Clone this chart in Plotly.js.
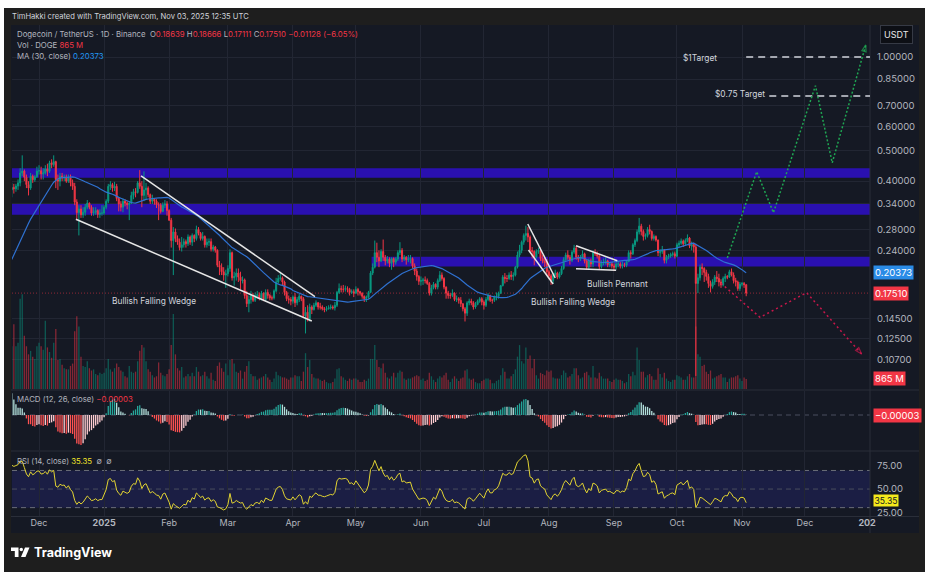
<!DOCTYPE html>
<html><head><meta charset="utf-8">
<script src="https://cdn.plot.ly/plotly-3.0.1.min.js"></script>
<style>html,body{margin:0;padding:0;background:#fff;}#chart{width:930px;height:577px;}</style>
</head><body><div id="chart"></div>
<script>
// ---------------- DATA (DOGE/USDT 1D, Binance) ----------------
// closes before the visible window (Sep 20 – Nov 17, 2024), only used to warm up MA / MACD / RSI
const preClose = [
0.107,0.110,0.107,0.110,0.113,0.112,0.118,0.127,0.130,0.125,0.110,
0.107,0.105,0.105,0.110,0.109,0.110,0.110,0.108,0.105,0.105,0.110,0.112,0.112,0.118,0.120,0.125,0.128,0.140,0.141,0.145,0.140,0.142,0.137,0.143,0.134,0.140,0.143,0.150,0.168,0.170,0.163,
0.166,0.160,0.158,0.160,0.172,0.200,0.210,0.200,0.220,0.280,0.330,0.390,0.385,0.370,0.385,0.410,0.375];

// visible window: Nov 18, 2024 – Nov 3, 2025 (one value per day)
const close = [
0.382,0.378,0.386,0.395,0.425,0.431,0.412,0.390,0.380,0.415,0.404,0.413,0.431,
0.432,0.422,0.425,0.438,0.430,0.458,0.452,0.462,0.405,0.400,0.415,0.410,0.412,0.400,0.410,0.395,0.385,0.343,0.317,0.326,0.312,0.318,0.330,0.340,0.330,0.316,0.318,0.322,0.313,0.316,0.316,
0.330,0.345,0.385,0.390,0.380,0.385,0.352,0.338,0.330,0.345,0.340,0.336,0.340,0.360,0.370,0.368,0.395,0.385,0.360,0.375,0.380,0.362,0.345,0.350,0.345,0.336,0.335,0.320,0.335,0.338,0.322,
0.300,0.258,0.275,0.262,0.255,0.245,0.250,0.256,0.252,0.265,0.255,0.268,0.262,0.280,0.272,0.262,0.266,0.250,0.255,0.256,0.242,0.246,0.240,0.215,0.212,0.205,0.200,0.202,
0.210,0.236,0.196,0.198,0.203,0.197,0.192,0.193,0.172,0.162,0.167,0.172,0.166,0.172,0.173,0.168,0.175,0.167,0.176,0.172,0.169,0.169,0.178,0.190,0.195,0.196,0.190,0.176,0.168,0.167,0.165,
0.170,0.163,0.167,0.171,0.168,0.148,0.152,0.145,0.158,0.155,0.160,0.163,0.158,0.158,0.156,0.155,0.156,0.157,0.158,0.157,0.160,0.176,0.181,0.180,0.180,0.181,0.180,0.176,0.177,0.175,
0.180,0.177,0.175,0.171,0.168,0.170,0.176,0.203,0.212,0.236,0.228,0.222,0.238,0.228,0.222,0.225,0.218,0.226,0.220,0.225,0.236,0.240,0.225,0.228,0.224,0.225,0.226,0.214,0.206,0.198,0.191,
0.192,0.193,0.192,0.188,0.175,0.182,0.187,0.183,0.192,0.200,0.195,0.183,0.175,0.172,0.172,0.175,0.167,0.168,0.166,0.162,0.156,0.151,0.163,0.165,0.163,0.158,0.161,0.165,0.168,0.164,
0.160,0.167,0.172,0.166,0.166,0.170,0.171,0.175,0.185,0.197,0.195,0.195,0.200,0.198,0.200,0.212,0.232,0.240,0.255,0.268,0.272,0.265,0.240,0.238,0.228,0.238,0.240,0.226,0.222,0.219,0.205,
0.199,0.192,0.200,0.203,0.197,0.202,0.210,0.224,0.232,0.228,0.223,0.237,0.244,0.228,0.225,0.228,0.234,0.222,0.212,0.222,0.217,0.236,0.234,0.230,0.213,0.219,0.220,0.222,0.216,0.217,0.214,
0.212,0.217,0.217,0.214,0.216,0.215,0.221,0.236,0.234,0.250,0.258,0.275,0.287,0.276,0.266,0.268,0.280,0.276,0.262,0.266,0.259,0.236,0.238,0.241,0.223,0.228,0.230,0.233,0.234,0.230,
0.250,0.253,0.257,0.252,0.258,0.263,0.248,0.251,0.246,0.188,0.196,0.212,0.210,0.204,0.198,0.188,0.184,0.190,0.197,0.195,0.190,0.186,0.195,0.198,0.197,0.205,0.200,0.192,0.190,0.181,0.187,
0.188,0.18639,0.17510];

const high = [
0.395,0.392,0.392,0.405,0.440,0.484,0.436,0.420,0.400,0.425,0.420,0.418,0.445,
0.450,0.445,0.440,0.450,0.455,0.465,0.470,0.484,0.465,0.420,0.425,0.425,0.420,0.420,0.420,0.420,0.405,0.395,0.350,0.335,0.335,0.330,0.338,0.348,0.342,0.335,0.330,0.330,0.325,0.325,0.335,
0.335,0.350,0.392,0.400,0.395,0.398,0.392,0.355,0.345,0.352,0.350,0.345,0.345,0.370,0.378,0.380,0.400,0.434,0.400,0.430,0.395,0.385,0.365,0.362,0.352,0.350,0.342,0.340,0.342,0.348,0.345,
0.325,0.305,0.285,0.282,0.268,0.262,0.265,0.262,0.260,0.270,0.268,0.272,0.270,0.288,0.285,0.275,0.275,0.268,0.262,0.262,0.262,0.250,0.248,0.242,0.222,0.218,0.212,0.208,
0.215,0.242,0.238,0.205,0.210,0.210,0.205,0.198,0.195,0.178,0.172,0.178,0.175,0.176,0.178,0.176,0.178,0.176,0.180,0.180,0.174,0.172,0.180,0.196,0.200,0.205,0.198,0.192,0.178,0.172,0.170,
0.172,0.175,0.170,0.174,0.172,0.170,0.158,0.160,0.162,0.160,0.163,0.166,0.164,0.163,0.160,0.158,0.159,0.160,0.161,0.160,0.164,0.178,0.188,0.185,0.186,0.185,0.184,0.182,0.180,0.180,
0.184,0.182,0.178,0.176,0.172,0.172,0.178,0.206,0.218,0.258,0.254,0.240,0.242,0.260,0.232,0.230,0.228,0.228,0.228,0.228,0.240,0.255,0.244,0.232,0.230,0.232,0.232,0.228,0.218,0.210,0.200,
0.198,0.196,0.198,0.195,0.190,0.186,0.190,0.188,0.195,0.206,0.204,0.197,0.184,0.178,0.175,0.180,0.176,0.172,0.170,0.170,0.162,0.158,0.165,0.168,0.168,0.165,0.164,0.167,0.170,0.170,
0.166,0.170,0.175,0.173,0.168,0.172,0.176,0.177,0.186,0.200,0.203,0.200,0.204,0.206,0.204,0.214,0.238,0.250,0.258,0.272,0.288,0.285,0.268,0.246,0.240,0.242,0.245,0.245,0.232,0.228,0.225,
0.208,0.202,0.203,0.208,0.205,0.205,0.214,0.228,0.236,0.240,0.232,0.240,0.250,0.248,0.232,0.232,0.240,0.236,0.224,0.226,0.226,0.240,0.242,0.238,0.232,0.223,0.226,0.228,0.224,0.220,0.220,
0.218,0.220,0.222,0.220,0.221,0.219,0.223,0.240,0.240,0.253,0.262,0.280,0.305,0.292,0.280,0.272,0.285,0.290,0.278,0.270,0.268,0.260,0.242,0.248,0.242,0.232,0.234,0.236,0.238,0.238,
0.254,0.258,0.262,0.260,0.262,0.270,0.265,0.256,0.254,0.252,0.202,0.216,0.218,0.212,0.208,0.202,0.192,0.194,0.200,0.206,0.202,0.194,0.198,0.202,0.200,0.208,0.210,0.204,0.196,0.192,0.190,
0.190,0.190,0.18666];

const low = [
0.355,0.365,0.370,0.375,0.385,0.415,0.400,0.380,0.360,0.375,0.395,0.398,0.410,
0.420,0.405,0.405,0.420,0.415,0.425,0.440,0.445,0.380,0.375,0.385,0.400,0.400,0.395,0.395,0.385,0.375,0.335,0.300,0.268,0.305,0.305,0.310,0.325,0.325,0.310,0.310,0.312,0.305,0.305,0.310,
0.312,0.325,0.340,0.375,0.370,0.372,0.345,0.320,0.320,0.318,0.332,0.325,0.300,0.338,0.350,0.355,0.365,0.378,0.330,0.345,0.350,0.355,0.338,0.338,0.336,0.328,0.300,0.315,0.318,0.328,0.310,
0.298,0.245,0.200,0.255,0.250,0.240,0.238,0.245,0.245,0.248,0.250,0.248,0.255,0.258,0.268,0.258,0.258,0.245,0.245,0.248,0.238,0.238,0.236,0.212,0.200,0.200,0.192,0.182,
0.198,0.205,0.192,0.185,0.192,0.190,0.180,0.188,0.168,0.158,0.152,0.162,0.164,0.164,0.168,0.166,0.166,0.165,0.165,0.168,0.166,0.166,0.167,0.176,0.188,0.192,0.185,0.172,0.165,0.162,0.160,
0.162,0.158,0.160,0.164,0.165,0.146,0.130,0.142,0.142,0.150,0.154,0.158,0.155,0.155,0.154,0.152,0.153,0.155,0.155,0.155,0.154,0.158,0.174,0.176,0.176,0.177,0.176,0.172,0.174,0.170,
0.174,0.172,0.172,0.168,0.164,0.164,0.168,0.175,0.200,0.210,0.220,0.212,0.220,0.222,0.215,0.218,0.212,0.208,0.212,0.216,0.222,0.232,0.220,0.222,0.216,0.220,0.218,0.210,0.200,0.192,0.186,
0.185,0.186,0.188,0.186,0.172,0.172,0.180,0.180,0.180,0.190,0.192,0.180,0.168,0.168,0.168,0.170,0.165,0.164,0.162,0.158,0.153,0.142,0.148,0.160,0.160,0.155,0.156,0.160,0.163,0.160,
0.155,0.158,0.165,0.164,0.162,0.164,0.166,0.168,0.174,0.184,0.188,0.190,0.193,0.193,0.192,0.198,0.210,0.228,0.235,0.250,0.258,0.255,0.236,0.226,0.215,0.226,0.234,0.222,0.218,0.212,0.200,
0.194,0.186,0.188,0.198,0.194,0.195,0.200,0.208,0.222,0.224,0.216,0.220,0.234,0.224,0.220,0.222,0.226,0.218,0.208,0.208,0.212,0.212,0.230,0.226,0.208,0.210,0.215,0.216,0.212,0.212,0.210,
0.206,0.208,0.212,0.210,0.210,0.212,0.212,0.220,0.226,0.232,0.246,0.255,0.270,0.268,0.258,0.260,0.264,0.270,0.258,0.258,0.256,0.230,0.228,0.234,0.218,0.218,0.225,0.227,0.229,0.226,
0.228,0.246,0.250,0.246,0.248,0.255,0.244,0.240,0.236,0.095,0.175,0.192,0.200,0.190,0.192,0.182,0.176,0.181,0.186,0.190,0.184,0.182,0.184,0.190,0.194,0.196,0.198,0.188,0.184,0.178,0.178,
0.184,0.182,0.17111];

// volume in millions of DOGE
const volume = [
3700,5600,3700,4000,7800,8200,4600,3700,3000,3300,2800,2600,3700,
4000,3700,3400,5900,3600,3200,2700,4000,5200,2500,2600,2100,1800,1700,1700,2000,2200,5000,6300,5400,2800,2000,1900,2400,1800,1600,1700,1300,1200,1400,1300,
1400,1800,2600,1700,1500,1800,2200,1900,1600,1500,1100,1000,2000,1500,1400,1500,2400,3300,3800,3600,2400,1700,1500,1200,1000,1100,2300,1400,1200,1100,1300,
1700,3800,6500,3000,1800,1600,1900,1000,1100,1300,1100,1400,1100,1900,1500,1100,1200,1500,1100,900,1400,800,700,2000,2300,1800,1500,2200,
1200,2500,2600,2200,1500,1400,1600,900,1500,2000,2400,1300,1100,1100,800,900,1000,1100,1300,1000,800,600,900,1500,1200,1100,1000,1000,900,800,1000,
1000,1200,1100,1100,700,1500,3100,1900,2500,1300,1000,900,900,800,700,800,600,500,500,600,900,1700,1800,1100,1000,800,700,900,800,900,
900,800,600,600,800,700,900,2600,2600,3800,2500,1900,1800,2200,1400,1000,900,1100,1400,1000,1400,1600,1500,900,800,900,900,1000,1100,1200,1100,
800,900,700,800,1400,1100,800,600,900,1100,1000,1200,1400,800,600,900,1100,900,700,900,1000,1600,1700,900,800,900,600,500,500,700,
800,900,900,800,500,500,700,800,1200,1800,1500,900,900,1100,1300,1700,2800,3800,2400,2200,3600,2600,2900,1800,2600,1200,900,1400,1300,1200,1600,
1500,1600,1000,900,900,900,1200,1600,1400,1000,1100,1300,1800,1800,1200,900,1000,1400,1500,1200,1000,2000,1000,900,1400,1100,900,900,900,700,600,
800,900,800,800,700,500,600,1300,1100,1500,1200,3600,2500,1500,1500,1000,1200,1300,1100,800,800,1800,1300,1000,1400,900,700,600,800,800,
1200,1100,1000,800,800,1100,1300,1000,1000,5400,3000,2800,2000,2100,1500,1300,1600,900,1000,1100,1200,1300,1000,1000,600,900,1000,1000,1100,1200,900,
700,1000,865];

// drawn annotations (pattern lines, targets, projected paths)
const wedge1Upper = {x:['2025-01-18 15:00','2025-04-11 12:00'], y:[0.4156,0.1705]};
const wedge1Lower = {x:['2024-12-18 14:00','2025-04-10 00:00'], y:[0.3019,0.1425]};
const wedge2Upper = {x:['2025-07-21 22:00','2025-08-04 00:00'], y:[0.2915,0.1957]};
const wedge2Lower = {x:['2025-07-22 06:00','2025-08-03 00:00'], y:[0.2406,0.1873]};
const pennantUpper = {x:['2025-08-13 22:00','2025-09-02 14:00'], y:[0.2484,0.2224]};
const pennantLower = {x:['2025-08-13 22:00','2025-09-02 00:00'], y:[0.2097,0.2072]};
const bullPathX = ['2025-10-25','2025-11-08','2025-11-16','2025-12-06','2025-12-14','2025-12-30'];
const bullPathY = [0.227,0.429,0.317,0.809,0.458,1.093];
const bearPathX = ['2025-10-22','2025-11-09 14:00','2025-12-01 19:00','2025-12-28'];
const bearPathY = [0.1883,0.1464,0.1757,0.1117];
const targets = [{label:'$1Target', price:1.0, from:'2025-11-03'}, {label:'$0.75 Target', price:0.75, from:'2025-11-14'}];
const bands = [[0.410,0.440,null],[0.312,0.340,null],[0.213,0.229,'2025-05-08 12:00']];
const priceTicks = [1.0,0.85,0.70,0.60,0.50,0.40,0.34,0.28,0.24,0.145,0.125,0.107];
const monthTicks = ['2024-12-01','2025-01-01','2025-02-01','2025-03-01','2025-04-01','2025-05-01','2025-06-01','2025-07-01','2025-08-01','2025-09-01','2025-10-01','2025-11-01','2025-12-01','2026-01-01'];
const monthLabels = ['Dec','<b>2025</b>','Feb','Mar','Apr','May','Jun','Jul','Aug','Sep','Oct','Nov','Dec','<b>2026</b>'];

// ---------------- derived ----------------
const DAY = 864e5;
const dates = close.map((_, i) => new Date(Date.UTC(2024,10,18) + i*DAY).toISOString().slice(0,10));
// 24/7 market: each day opens at the previous day's close
const open = close.map((c,i) => i===0 ? preClose[preClose.length-1] : close[i-1]);
const all = preClose.concat(close);
const N0 = preClose.length;
function sma(a,n){return a.map((_,i)=> i<n-1?null:a.slice(i-n+1,i+1).reduce((s,v)=>s+v,0)/n);}
function ema(a,n){const k=2/(n+1);let e=a[0];return a.map((v,i)=>(e= i===0?v:v*k+e*(1-k)));}
function rsiCalc(a,n){const out=[null];let ag=0,al=0;for(let i=1;i<a.length;i++){const d=a[i]-a[i-1],g=Math.max(d,0),l=Math.max(-d,0);
  if(i<=n){ag+=g/n;al+=l/n;out.push(i===n?100-100/(1+ag/al):null);}else{ag=(ag*(n-1)+g)/n;al=(al*(n-1)+l)/n;out.push(al===0?100:100-100/(1+ag/al));}}return out;}
const ma30 = sma(all,30).slice(N0);
const e12 = ema(all,12), e26 = ema(all,26);
const macdLine = e12.map((v,i)=>v-e26[i]);
const sig = ema(macdLine,9);
const histAll = macdLine.map((v,i)=>v-sig[i]);
const hist = histAll.slice(N0);
const histCol = hist.map((h,i)=>{const p=histAll[N0+i-1];return h>=0?(h>p?'#26a69a':'#b2dfdb'):(h<p?'#ff5252':'#ffcdd2');});
const rsi = rsiCalc(all,14).slice(N0);
const volCol = close.map((c,i)=> c>=open[i]?'rgba(8,153,129,0.5)':'rgba(242,54,69,0.5)');

// ---------------- geometry ----------------
const L=12,R=870,T=25,B=516;
const PX = p => (p-L)/(R-L);
const PY = p => (B-p)/(B-T);
const PR = [-(389-57)/312, (57-25)/312];          // log10 price range of the main pane
const DM = [PY(389), 1];
const yp = p => DM[0] + (Math.log10(p)-PR[0])/(PR[1]-PR[0])*(DM[1]-DM[0]);
let minH = Math.min(...hist);
const S = -minH/0.508;
const macdRange = [-0.593*S, 0.407*S];

const FONT = 'Inter, Roboto, "Noto Sans", sans-serif';
const GRID = '#222633';
const TXT = '#b2b5be';

const traces = [];
traces.push({type:'bar', x:dates, y:volume, xaxis:'x', yaxis:'y', marker:{color:volCol, line:{width:0}}, width:0.62*DAY, hoverinfo:'skip'});
traces.push({type:'candlestick', x:dates, open, high, low, close, xaxis:'x', yaxis:'y2', whiskerwidth:0,
  increasing:{line:{color:'#089981',width:1}, fillcolor:'#089981'},
  decreasing:{line:{color:'#f23645',width:1}, fillcolor:'#f23645'}, hoverinfo:'skip'});
traces.push({type:'scatter', mode:'lines', x:dates, y:ma30, xaxis:'x', yaxis:'y2', line:{color:'#2f72d2', width:1.2}, hoverinfo:'skip'});
[wedge1Upper,wedge1Lower,wedge2Upper,wedge2Lower,pennantUpper,pennantLower].forEach(s=>{
  traces.push({type:'scatter', mode:'lines', x:s.x, y:s.y, xaxis:'x', yaxis:'y2', line:{color:'#e6e6e6', width:1.5}, hoverinfo:'skip'});
});
targets.forEach(t=>{
  traces.push({type:'scatter', mode:'lines', x:[t.from,'2026-01-01'], y:[t.price,t.price], xaxis:'x', yaxis:'y2', line:{color:'#d1d4dc', width:1.3, dash:'7px,5px'}, hoverinfo:'skip'});
});
const arrowSizes = n => Array.from({length:n},(_,i)=> i===n-1?7:0);
traces.push({type:'scatter', mode:'lines+markers', x:bullPathX, y:bullPathY, xaxis:'x', yaxis:'y2',
  line:{color:'#1fa653', width:1.5, dash:'2px,2px'},
  marker:{symbol:'arrow-open', size:arrowSizes(bullPathX.length), angleref:'previous', color:'#1fa653', line:{color:'#1fa653',width:1.2}}, hoverinfo:'skip'});
traces.push({type:'scatter', mode:'lines+markers', x:bearPathX, y:bearPathY, xaxis:'x', yaxis:'y2',
  line:{color:'#c8174a', width:1.5, dash:'2px,3px'},
  marker:{symbol:'arrow-open', size:arrowSizes(bearPathX.length), angleref:'previous', color:'#c8174a', line:{color:'#c8174a',width:1.2}}, hoverinfo:'skip'});
traces.push({type:'bar', x:dates, y:hist, xaxis:'x', yaxis:'y3', marker:{color:histCol, line:{width:0}}, width:0.62*DAY, hoverinfo:'skip'});
traces.push({type:'scatter', mode:'lines', x:dates, y:rsi, xaxis:'x', yaxis:'y4', line:{color:'#e2d432', width:1}, hoverinfo:'skip'});

const shapes = [];
const rectP = (x0,y0,x1,y1,fill,layer)=>({type:'rect', xref:'paper', yref:'paper', x0:PX(x0), x1:PX(x1), y0:PY(y1), y1:PY(y0), fillcolor:fill, line:{width:0}, layer:layer||'below'});
const lineP = (x0,y0,x1,y1,color,dash,layer)=>({type:'line', xref:'paper', yref:'paper', x0:PX(x0), x1:PX(x1), y0:PY(y0), y1:PY(y1), line:{color, width:1, dash:dash||'solid'}, layer:layer||'below'});
shapes.push(rectP(4,8,925,572,'#1e1e1e'));
shapes.push(rectP(11,25,919,533,'#151924'));
bands.forEach(b=>{
  const x0 = b[2] ? PX(742 + 2.0985*((Date.parse(b[2]+'Z')-Date.UTC(2025,10,1))/DAY)) : 0;
  shapes.push({type:'rect', xref:'paper', yref:'paper', x0, x1:1, y0:yp(b[0]), y1:yp(b[1]), fillcolor:'#2a10b0', line:{width:0}, layer:'below'});
});
shapes.push({type:'rect', xref:'paper', yref:'y4', x0:0, x1:1, y0:30, y1:70, fillcolor:'#1b1e44', line:{width:0}, layer:'below'});
[70,50,30].forEach(v=>shapes.push({type:'line', xref:'paper', yref:'y4', x0:0, x1:1, y0:v, y1:v, line:{color:v===50?'#4a4e5e':'#6a6d78', width:1, dash:'5px,4px'}, layer:'below'}));
shapes.push({type:'line', xref:'paper', yref:'y3', x0:0, x1:1, y0:0, y1:0, line:{color:'#4a4e5e', width:1, dash:'5px,4px'}, layer:'below'});
shapes.push({type:'line', xref:'paper', yref:'paper', x0:0, x1:1, y0:yp(0.1751), y1:yp(0.1751), line:{color:'rgba(242,54,69,0.55)', width:1, dash:'1px,2px'}, layer:'below'});
shapes.push(lineP(11,390,919,390,'#2a2e39'));
shapes.push(lineP(11,451,919,451,'#2a2e39'));
shapes.push(lineP(11,516.5,919,516.5,'#2a2e39'));
shapes.push(lineP(870,25,870,533,'#2a2e39'));
// clip of the last time label by the price scale column
shapes.push(rectP(876,519,918,532,'#151924','above'));
// TradingView logo mark
const path = pts => 'M' + pts.map(p=>PX(p[0])+','+PY(p[1])).join(' L') + ' Z';
shapes.push({type:'path', xref:'paper', yref:'paper', path:path([[11,547.5],[18.5,547.5],[18.5,557],[14.8,557],[14.8,551],[11,551]]), fillcolor:'#ffffff', line:{width:0}, layer:'above'});
shapes.push({type:'circle', xref:'paper', yref:'paper', x0:PX(19.6), x1:PX(23), y0:PY(551.2), y1:PY(547.8), fillcolor:'#ffffff', line:{width:0}, layer:'above'});
shapes.push({type:'path', xref:'paper', yref:'paper', path:path([[25,547.5],[29.5,547.5],[25.5,557],[21,557]]), fillcolor:'#ffffff', line:{width:0}, layer:'above'});

const anns = [];
const A = (x,y,text,o={}) => anns.push(Object.assign({xref:'paper', yref:'paper', x:PX(x), y:PY(y), text, showarrow:false, xanchor:'left', yanchor:'middle',
  font:{family:FONT, size:7.8, color:TXT}}, o));
const red = s => '<span style="color:#f23645">'+s+'</span>';
A(10,17,'TimHakki created with TradingView.com, Nov 03, 2025 12:35 UTC',{font:{family:FONT,size:7.6,color:'#d1d4dc'}});
A(15,34,'Dogecoin / TetherUS · 1D · Binance  O'+red('0.18639')+' H'+red('0.18666')+' L'+red('0.17111')+' C'+red('0.17510')+' '+red('−0.01128 (−6.05%)'));
A(15,45,'Vol · DOGE '+red('865 M'));
A(15,56,'MA (30, close) <span style="color:#2196f3">0.20373</span>');
A(15,398.5,'MACD (12, 26, close) '+red('−0.00003'));
A(15,461,'RSI (14, close) <span style="color:#f2e52a">35.35</span>  ∅  ∅');
const lab = (x,y,t)=>A(x,y,t,{xanchor:'center', font:{family:FONT,size:8.4,color:'#d1d4dc'}});
lab(154,301,'Bullish Falling Wedge');
lab(573,302,'Bullish Falling Wedge');
lab(617,283.5,'Bullish Pennant');
lab(700,58,targets[0].label);
lab(740,94.5,targets[1].label);
const box = (y,text,bg,fg,sz,pad)=>A(873,y,text,{bgcolor:bg, borderpad:pad===undefined?1:pad, font:{family:FONT,size:sz||9.5,color:fg||'#ffffff'}});
box(272.5,'0.20373','#2a8be6');
box(293,'0.17510','#f23645');
box(378,'865 M','#f23645');
box(415,'−0.00003','#f23645');
box(500.5,'35.35','#f5ea1c','#131722',8.6,0.5);
A(896.5,35,'USDT',{xanchor:'center', bgcolor:'#0d0f15', bordercolor:'#363a45', borderwidth:1, borderpad:3, font:{family:FONT,size:9,color:'#e8e8e8'}});
A(32,552.5,'<b>TradingView</b>',{font:{family:FONT,size:12.6,color:'#ffffff'}});

const layout = {
  width:930, height:577, margin:{l:L, r:930-R, t:T, b:577-B, pad:0},
  paper_bgcolor:'#ffffff', plot_bgcolor:'rgba(0,0,0,0)',
  showlegend:false, hovermode:false, dragmode:false,
  font:{family:FONT, size:9, color:TXT},
  xaxis:{type:'date', anchor:'y4', range:['2024-11-18 03:00','2026-01-01'], tickvals:monthTicks, ticktext:monthLabels,
    showgrid:true, gridcolor:GRID, gridwidth:1, zeroline:false, showline:false, ticks:'', tickfont:{family:FONT,size:9,color:TXT},
    rangeslider:{visible:false}, fixedrange:true},
  yaxis:{domain:DM, range:[0,31500], visible:false, fixedrange:true},
  yaxis2:{overlaying:'y', anchor:'x', side:'right', type:'log', range:PR, tickvals:priceTicks, ticktext:priceTicks.map(v=>v.toFixed(5)),
    showgrid:true, gridcolor:GRID, zeroline:false, showline:false, ticks:'', ticklabelstandoff:6, tickfont:{family:FONT,size:9.5,color:TXT}, fixedrange:true},
  yaxis3:{domain:[PY(450),PY(391)], anchor:'x', range:macdRange, showgrid:false, zeroline:false, showticklabels:false, ticks:'', fixedrange:true},
  yaxis4:{domain:[0,PY(452)], anchor:'x', side:'right', range:[21.0,89.9], tickvals:[25,50,75], ticktext:['25.00','50.00','75.00'],
    showgrid:false, zeroline:false, ticks:'', ticklabelstandoff:6, tickfont:{family:FONT,size:9.5,color:TXT}, fixedrange:true},
  shapes, annotations:anns
};
Plotly.newPlot('chart', traces, layout, {staticPlot:true, displayModeBar:false});
</script></body></html>
